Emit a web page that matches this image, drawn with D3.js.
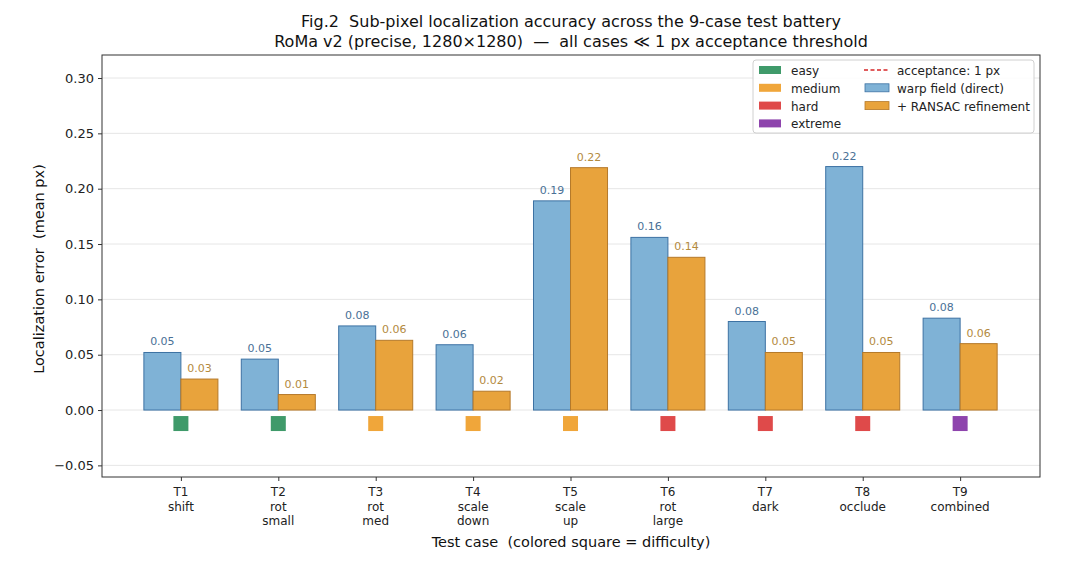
<!DOCTYPE html>
<html>
<head>
<meta charset="utf-8">
<script src="https://cdn.jsdelivr.net/npm/d3@7"></script>
<style>
  body { margin: 0; background: #fff; }
  svg { font-family: "DejaVu Sans", sans-serif; }
  svg text { white-space: pre; }
</style>
</head>
<body>
<div id="chart"></div>
<script>
// data
const cases = ["T1", "T2", "T3", "T4", "T5", "T6", "T7", "T8", "T9"];
const caseNames = [["shift"], ["rot", "small"], ["rot", "med"], ["scale", "down"], ["scale", "up"],
                   ["rot", "large"], ["dark"], ["occlude"], ["combined"]];
const difficulty = ["easy", "easy", "medium", "medium", "medium", "hard", "hard", "hard", "extreme"];
const warpField = [0.052, 0.046, 0.076, 0.059, 0.189, 0.156, 0.080, 0.220, 0.083];
const ransac = [0.028, 0.014, 0.063, 0.017, 0.219, 0.138, 0.052, 0.052, 0.060];
const yTicks = [-0.05, 0.00, 0.05, 0.10, 0.15, 0.20, 0.25, 0.30];

const diffColor = { easy: "#3f9a6a", medium: "#f0a63a", hard: "#df4a4a", extreme: "#8e44ad" };

const W = 1080, H = 567;
const margin = { top: 55, right: 40, bottom: 90, left: 102 };
const width = W - margin.left - margin.right,
      height = H - margin.top - margin.bottom;

const svg = d3.select("#chart").append("svg")
    .attr("width", W)
    .attr("height", H);

const g = svg.append("g")
    .attr("transform", `translate(${margin.left},${margin.top})`);

// scales
const x = d3.scaleLinear().domain([-0.81, 8.82]).range([0, width]);
const y = d3.scaleLinear().domain([-0.0605, 0.3208]).range([height, 0]);
const bw = 0.38;

// grid
g.selectAll(".grid")
    .data(yTicks)
    .enter()
    .append("line")
    .attr("x1", 0)
    .attr("x2", width)
    .attr("y1", d => y(d))
    .attr("y2", d => y(d))
    .attr("stroke", "#e6e6e6")
    .attr("stroke-width", 1);

// bars
g.selectAll(".bar-warp")
    .data(warpField)
    .enter()
    .append("rect")
    .attr("x", (d, i) => x(i - bw))
    .attr("y", d => y(d))
    .attr("width", x(bw) - x(0))
    .attr("height", d => y(0) - y(d))
    .attr("fill", "#7fb2d6")
    .attr("stroke", "#3d72a3")
    .attr("stroke-width", 1);

g.selectAll(".bar-ransac")
    .data(ransac)
    .enter()
    .append("rect")
    .attr("x", (d, i) => x(i))
    .attr("y", d => y(d))
    .attr("width", x(bw) - x(0))
    .attr("height", d => y(0) - y(d))
    .attr("fill", "#e8a33c")
    .attr("stroke", "#b5792a")
    .attr("stroke-width", 1);

// value labels
g.selectAll(".lab-warp")
    .data(warpField)
    .enter()
    .append("text")
    .attr("x", (d, i) => x(i - bw / 2))
    .attr("y", d => y(d) - 7)
    .attr("text-anchor", "middle")
    .attr("font-size", 11)
    .attr("fill", "#4a7196")
    .text(d => d.toFixed(2));

g.selectAll(".lab-ransac")
    .data(ransac)
    .enter()
    .append("text")
    .attr("x", (d, i) => x(i + bw / 2))
    .attr("y", d => y(d) - 7)
    .attr("text-anchor", "middle")
    .attr("font-size", 11)
    .attr("fill", "#b38a3e")
    .text(d => d.toFixed(2));

// difficulty squares
const sq = 15;
g.selectAll(".diff")
    .data(difficulty)
    .enter()
    .append("rect")
    .attr("x", (d, i) => x(i) - sq / 2)
    .attr("y", y(0) + 6)
    .attr("width", sq)
    .attr("height", sq)
    .attr("fill", d => diffColor[d]);

// frame
g.append("rect")
    .attr("width", width)
    .attr("height", height)
    .attr("fill", "none")
    .attr("stroke", "#333")
    .attr("stroke-width", 1);

// axes
const yAxis = d3.axisLeft(y).tickValues(yTicks).tickFormat(d => d < 0 ? "\u2212" + Math.abs(d).toFixed(2) : d.toFixed(2)).tickSize(4).tickPadding(4);
const yAx = g.append("g").call(yAxis);
yAx.select(".domain").remove();
yAx.selectAll("text").attr("font-size", 13).attr("fill", "#222").attr("font-family", "DejaVu Sans");
yAx.selectAll("line").attr("stroke", "#333");

const xAxis = d3.axisBottom(x).tickValues(d3.range(cases.length)).tickFormat("").tickSize(4);
const xAx = g.append("g").attr("transform", `translate(0,${height})`).call(xAxis);
xAx.select(".domain").remove();
xAx.selectAll("line").attr("stroke", "#333");

cases.forEach((c, i) => {
    const t = g.append("text")
        .attr("x", x(i))
        .attr("y", height + 19)
        .attr("text-anchor", "middle")
        .attr("font-size", 12)
        .attr("fill", "#222");
    [c].concat(caseNames[i]).forEach((line, k) => {
        t.append("tspan").attr("x", x(i)).attr("dy", k === 0 ? 0 : 14.5).text(line);
    });
});

// axis labels
svg.append("text")
    .attr("x", margin.left + width / 2)
    .attr("y", 547)
    .attr("text-anchor", "middle")
    .attr("font-size", 14.5)
    .attr("fill", "#111")
    .text("Test case  (colored square = difficulty)");

svg.append("text")
    .attr("transform", `translate(44,${margin.top + height / 2 + 3}) rotate(-90)`)
    .attr("text-anchor", "middle")
    .attr("font-size", 14.5)
    .attr("fill", "#111")
    .text("Localization error  (mean px)");

// title
svg.append("text")
    .attr("x", margin.left + width / 2)
    .attr("y", 27)
    .attr("text-anchor", "middle")
    .attr("font-size", 16)
    .attr("fill", "#111")
    .text("Fig.2  Sub-pixel localization accuracy across the 9-case test battery");
svg.append("text")
    .attr("x", margin.left + width / 2)
    .attr("y", 47)
    .attr("text-anchor", "middle")
    .attr("font-size", 16)
    .attr("fill", "#111")
    .text("RoMa v2 (precise, 1280\u00d71280)  \u2014  all cases \u226a 1 px acceptance threshold");

// legend
const legendLeft = [
    { name: "easy", color: diffColor.easy },
    { name: "medium", color: diffColor.medium },
    { name: "hard", color: diffColor.hard },
    { name: "extreme", color: diffColor.extreme }
];
const legendRight = [
    { name: "acceptance: 1 px", type: "line", color: "#d62728" },
    { name: "warp field (direct)", type: "box", color: "#7fb2d6", stroke: "#3d72a3" },
    { name: "+ RANSAC refinement", type: "box", color: "#e8a33c", stroke: "#b5792a" }
];

const legend = svg.append("g").attr("transform", "translate(753,60)");
legend.append("rect")
    .attr("width", 281)
    .attr("height", 73)
    .attr("rx", 3)
    .attr("fill", "#fff")
    .attr("fill-opacity", 0.85)
    .attr("stroke", "#d0d0d0");

legend.selectAll(".ll")
    .data(legendLeft)
    .enter()
    .append("rect")
    .attr("x", 6)
    .attr("y", (d, i) => 6 + i * 17.8)
    .attr("width", 22)
    .attr("height", 8)
    .attr("fill", d => d.color);
legend.selectAll(".lt")
    .data(legendLeft)
    .enter()
    .append("text")
    .attr("x", 38)
    .attr("y", (d, i) => 15 + i * 17.8)
    .attr("font-size", 12)
    .attr("fill", "#222")
    .text(d => d.name);

legendRight.forEach((d, i) => {
    const yy = 6 + i * 17.8;
    if (d.type === "line") {
        legend.append("line")
            .attr("x1", 111).attr("x2", 136)
            .attr("y1", yy + 4).attr("y2", yy + 4)
            .attr("stroke", d.color)
            .attr("stroke-width", 1.5)
            .attr("stroke-dasharray", "4,2.5");
    } else {
        legend.append("rect")
            .attr("x", 112).attr("y", yy)
            .attr("width", 24).attr("height", 8)
            .attr("fill", d.color)
            .attr("stroke", d.stroke)
            .attr("stroke-width", 0.8);
    }
    legend.append("text")
        .attr("x", 144)
        .attr("y", yy + 9)
        .attr("font-size", 12)
        .attr("fill", "#222")
        .text(d.name);
});
</script>
</body>
</html>
